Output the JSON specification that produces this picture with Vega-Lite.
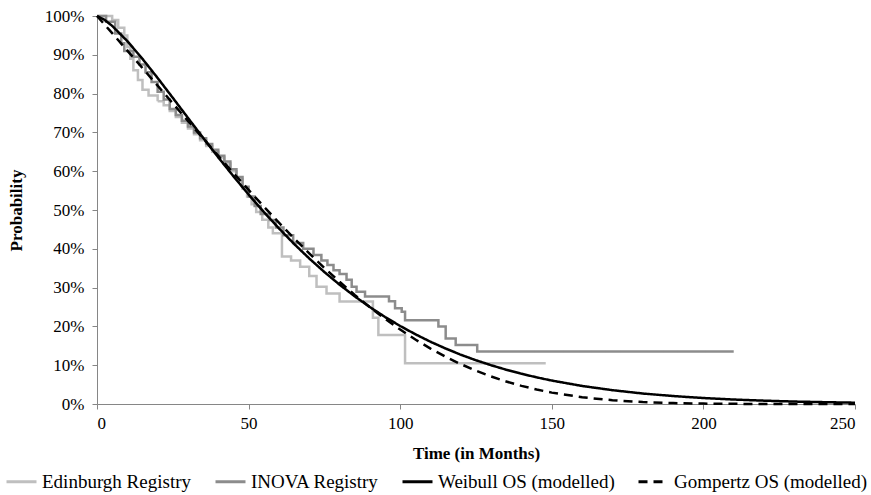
{
  "$schema": "https://vega.github.io/schema/vega-lite/v6.json",
  "autosize": "none",
  "width": 758,
  "height": 388,
  "padding": {"left": 97, "top": 16, "right": 16, "bottom": 91},
  "background": "white",
  "config": {
    "view": {"stroke": null},
    "font": "Liberation Serif",
    "axis": {"grid": false, "domainColor": "#868686", "tickColor": "#868686", "labelColor": "#000000", "titleColor": "#000000", "labelFont": "Liberation Serif", "titleFont": "Liberation Serif", "labelFontSize": 17, "titleFontSize": 17, "titleFontWeight": "bold", "tickSize": 5, "domainWidth": 1},
    "legend": {"labelFont": "Liberation Serif", "labelFontSize": 19, "labelColor": "#000000", "labelLimit": 0}
  },
  "datasets": {
    "km": [
      {"t": 0, "s": 1.0, "series": "Edinburgh Registry"},
      {"t": 5, "s": 0.99, "series": "Edinburgh Registry"},
      {"t": 7, "s": 0.97, "series": "Edinburgh Registry"},
      {"t": 9, "s": 0.95, "series": "Edinburgh Registry"},
      {"t": 10, "s": 0.92, "series": "Edinburgh Registry"},
      {"t": 11, "s": 0.89, "series": "Edinburgh Registry"},
      {"t": 12, "s": 0.86, "series": "Edinburgh Registry"},
      {"t": 13.5, "s": 0.835, "series": "Edinburgh Registry"},
      {"t": 15, "s": 0.81, "series": "Edinburgh Registry"},
      {"t": 17, "s": 0.795, "series": "Edinburgh Registry"},
      {"t": 20, "s": 0.78, "series": "Edinburgh Registry"},
      {"t": 22, "s": 0.77, "series": "Edinburgh Registry"},
      {"t": 24, "s": 0.755, "series": "Edinburgh Registry"},
      {"t": 26, "s": 0.74, "series": "Edinburgh Registry"},
      {"t": 28, "s": 0.725, "series": "Edinburgh Registry"},
      {"t": 30, "s": 0.71, "series": "Edinburgh Registry"},
      {"t": 32, "s": 0.695, "series": "Edinburgh Registry"},
      {"t": 34, "s": 0.68, "series": "Edinburgh Registry"},
      {"t": 36, "s": 0.665, "series": "Edinburgh Registry"},
      {"t": 38, "s": 0.65, "series": "Edinburgh Registry"},
      {"t": 40, "s": 0.635, "series": "Edinburgh Registry"},
      {"t": 42, "s": 0.62, "series": "Edinburgh Registry"},
      {"t": 44, "s": 0.6, "series": "Edinburgh Registry"},
      {"t": 46, "s": 0.58, "series": "Edinburgh Registry"},
      {"t": 48, "s": 0.555, "series": "Edinburgh Registry"},
      {"t": 49.5, "s": 0.535, "series": "Edinburgh Registry"},
      {"t": 51, "s": 0.515, "series": "Edinburgh Registry"},
      {"t": 52.5, "s": 0.495, "series": "Edinburgh Registry"},
      {"t": 54.5, "s": 0.475, "series": "Edinburgh Registry"},
      {"t": 56.5, "s": 0.455, "series": "Edinburgh Registry"},
      {"t": 58, "s": 0.44, "series": "Edinburgh Registry"},
      {"t": 61, "s": 0.38, "series": "Edinburgh Registry"},
      {"t": 64, "s": 0.37, "series": "Edinburgh Registry"},
      {"t": 67, "s": 0.354, "series": "Edinburgh Registry"},
      {"t": 70, "s": 0.33, "series": "Edinburgh Registry"},
      {"t": 72.4, "s": 0.302, "series": "Edinburgh Registry"},
      {"t": 75.7, "s": 0.285, "series": "Edinburgh Registry"},
      {"t": 80, "s": 0.264, "series": "Edinburgh Registry"},
      {"t": 91, "s": 0.222, "series": "Edinburgh Registry"},
      {"t": 92.8, "s": 0.178, "series": "Edinburgh Registry"},
      {"t": 101.6, "s": 0.105, "series": "Edinburgh Registry"},
      {"t": 148, "s": 0.105, "series": "Edinburgh Registry"},
      {"t": 0, "s": 1.0, "series": "INOVA Registry"},
      {"t": 3, "s": 0.985, "series": "INOVA Registry"},
      {"t": 6, "s": 0.955, "series": "INOVA Registry"},
      {"t": 8, "s": 0.93, "series": "INOVA Registry"},
      {"t": 9, "s": 0.91, "series": "INOVA Registry"},
      {"t": 12, "s": 0.895, "series": "INOVA Registry"},
      {"t": 14, "s": 0.875, "series": "INOVA Registry"},
      {"t": 16, "s": 0.855, "series": "INOVA Registry"},
      {"t": 18, "s": 0.83, "series": "INOVA Registry"},
      {"t": 20, "s": 0.805, "series": "INOVA Registry"},
      {"t": 22, "s": 0.785, "series": "INOVA Registry"},
      {"t": 24, "s": 0.76, "series": "INOVA Registry"},
      {"t": 26, "s": 0.745, "series": "INOVA Registry"},
      {"t": 28, "s": 0.73, "series": "INOVA Registry"},
      {"t": 30, "s": 0.715, "series": "INOVA Registry"},
      {"t": 32, "s": 0.7, "series": "INOVA Registry"},
      {"t": 34, "s": 0.685, "series": "INOVA Registry"},
      {"t": 36, "s": 0.67, "series": "INOVA Registry"},
      {"t": 38, "s": 0.655, "series": "INOVA Registry"},
      {"t": 40, "s": 0.64, "series": "INOVA Registry"},
      {"t": 42, "s": 0.625, "series": "INOVA Registry"},
      {"t": 44, "s": 0.605, "series": "INOVA Registry"},
      {"t": 46, "s": 0.585, "series": "INOVA Registry"},
      {"t": 48, "s": 0.56, "series": "INOVA Registry"},
      {"t": 50, "s": 0.535, "series": "INOVA Registry"},
      {"t": 52, "s": 0.51, "series": "INOVA Registry"},
      {"t": 54, "s": 0.49, "series": "INOVA Registry"},
      {"t": 57, "s": 0.474, "series": "INOVA Registry"},
      {"t": 59, "s": 0.455, "series": "INOVA Registry"},
      {"t": 61.5, "s": 0.435, "series": "INOVA Registry"},
      {"t": 64.7, "s": 0.415, "series": "INOVA Registry"},
      {"t": 68, "s": 0.4, "series": "INOVA Registry"},
      {"t": 71.4, "s": 0.384, "series": "INOVA Registry"},
      {"t": 74, "s": 0.37, "series": "INOVA Registry"},
      {"t": 76, "s": 0.358, "series": "INOVA Registry"},
      {"t": 78, "s": 0.345, "series": "INOVA Registry"},
      {"t": 80, "s": 0.335, "series": "INOVA Registry"},
      {"t": 82.3, "s": 0.32, "series": "INOVA Registry"},
      {"t": 84, "s": 0.302, "series": "INOVA Registry"},
      {"t": 85.6, "s": 0.289, "series": "INOVA Registry"},
      {"t": 88.4, "s": 0.277, "series": "INOVA Registry"},
      {"t": 96.3, "s": 0.265, "series": "INOVA Registry"},
      {"t": 98.3, "s": 0.247, "series": "INOVA Registry"},
      {"t": 100.5, "s": 0.238, "series": "INOVA Registry"},
      {"t": 101.6, "s": 0.216, "series": "INOVA Registry"},
      {"t": 112.6, "s": 0.2, "series": "INOVA Registry"},
      {"t": 115, "s": 0.169, "series": "INOVA Registry"},
      {"t": 118.3, "s": 0.152, "series": "INOVA Registry"},
      {"t": 125.4, "s": 0.135, "series": "INOVA Registry"},
      {"t": 210, "s": 0.135, "series": "INOVA Registry"}
    ],
    "model": [
      {"t": 0, "s": 1.0, "series": "Weibull OS (modelled)"},
      {"t": 2.5, "s": 0.990, "series": "Weibull OS (modelled)"},
      {"t": 5, "s": 0.9746, "series": "Weibull OS (modelled)"},
      {"t": 10, "s": 0.9353, "series": "Weibull OS (modelled)"},
      {"t": 15, "s": 0.8896, "series": "Weibull OS (modelled)"},
      {"t": 20, "s": 0.8402, "series": "Weibull OS (modelled)"},
      {"t": 25, "s": 0.7891, "series": "Weibull OS (modelled)"},
      {"t": 30, "s": 0.7374, "series": "Weibull OS (modelled)"},
      {"t": 35, "s": 0.6861, "series": "Weibull OS (modelled)"},
      {"t": 40, "s": 0.6357, "series": "Weibull OS (modelled)"},
      {"t": 45, "s": 0.5869, "series": "Weibull OS (modelled)"},
      {"t": 50, "s": 0.5399, "series": "Weibull OS (modelled)"},
      {"t": 55, "s": 0.4951, "series": "Weibull OS (modelled)"},
      {"t": 60, "s": 0.4527, "series": "Weibull OS (modelled)"},
      {"t": 65, "s": 0.4126, "series": "Weibull OS (modelled)"},
      {"t": 70, "s": 0.3751, "series": "Weibull OS (modelled)"},
      {"t": 75, "s": 0.3401, "series": "Weibull OS (modelled)"},
      {"t": 80, "s": 0.3076, "series": "Weibull OS (modelled)"},
      {"t": 85, "s": 0.2775, "series": "Weibull OS (modelled)"},
      {"t": 90, "s": 0.2498, "series": "Weibull OS (modelled)"},
      {"t": 95, "s": 0.2243, "series": "Weibull OS (modelled)"},
      {"t": 100, "s": 0.2010, "series": "Weibull OS (modelled)"},
      {"t": 105, "s": 0.1798, "series": "Weibull OS (modelled)"},
      {"t": 110, "s": 0.1604, "series": "Weibull OS (modelled)"},
      {"t": 115, "s": 0.1429, "series": "Weibull OS (modelled)"},
      {"t": 120, "s": 0.1270, "series": "Weibull OS (modelled)"},
      {"t": 125, "s": 0.1127, "series": "Weibull OS (modelled)"},
      {"t": 130, "s": 0.0999, "series": "Weibull OS (modelled)"},
      {"t": 135, "s": 0.0883, "series": "Weibull OS (modelled)"},
      {"t": 140, "s": 0.0779, "series": "Weibull OS (modelled)"},
      {"t": 145, "s": 0.0687, "series": "Weibull OS (modelled)"},
      {"t": 150, "s": 0.0604, "series": "Weibull OS (modelled)"},
      {"t": 160, "s": 0.0465, "series": "Weibull OS (modelled)"},
      {"t": 170, "s": 0.0356, "series": "Weibull OS (modelled)"},
      {"t": 180, "s": 0.0270, "series": "Weibull OS (modelled)"},
      {"t": 190, "s": 0.0205, "series": "Weibull OS (modelled)"},
      {"t": 200, "s": 0.0154, "series": "Weibull OS (modelled)"},
      {"t": 210, "s": 0.0115, "series": "Weibull OS (modelled)"},
      {"t": 220, "s": 0.0086, "series": "Weibull OS (modelled)"},
      {"t": 230, "s": 0.0063, "series": "Weibull OS (modelled)"},
      {"t": 240, "s": 0.0047, "series": "Weibull OS (modelled)"},
      {"t": 250, "s": 0.0034, "series": "Weibull OS (modelled)"},
      {"t": 0, "s": 1.0, "series": "Gompertz OS (modelled)"},
      {"t": 5, "s": 0.9557, "series": "Gompertz OS (modelled)"},
      {"t": 10, "s": 0.9109, "series": "Gompertz OS (modelled)"},
      {"t": 15, "s": 0.8658, "series": "Gompertz OS (modelled)"},
      {"t": 20, "s": 0.8205, "series": "Gompertz OS (modelled)"},
      {"t": 25, "s": 0.7750, "series": "Gompertz OS (modelled)"},
      {"t": 30, "s": 0.7296, "series": "Gompertz OS (modelled)"},
      {"t": 35, "s": 0.6844, "series": "Gompertz OS (modelled)"},
      {"t": 40, "s": 0.6396, "series": "Gompertz OS (modelled)"},
      {"t": 45, "s": 0.5953, "series": "Gompertz OS (modelled)"},
      {"t": 50, "s": 0.5517, "series": "Gompertz OS (modelled)"},
      {"t": 55, "s": 0.5091, "series": "Gompertz OS (modelled)"},
      {"t": 60, "s": 0.4675, "series": "Gompertz OS (modelled)"},
      {"t": 65, "s": 0.4271, "series": "Gompertz OS (modelled)"},
      {"t": 70, "s": 0.3881, "series": "Gompertz OS (modelled)"},
      {"t": 75, "s": 0.3507, "series": "Gompertz OS (modelled)"},
      {"t": 80, "s": 0.3151, "series": "Gompertz OS (modelled)"},
      {"t": 85, "s": 0.2812, "series": "Gompertz OS (modelled)"},
      {"t": 90, "s": 0.2494, "series": "Gompertz OS (modelled)"},
      {"t": 95, "s": 0.2195, "series": "Gompertz OS (modelled)"},
      {"t": 100, "s": 0.1918, "series": "Gompertz OS (modelled)"},
      {"t": 105, "s": 0.1662, "series": "Gompertz OS (modelled)"},
      {"t": 110, "s": 0.1429, "series": "Gompertz OS (modelled)"},
      {"t": 115, "s": 0.1217, "series": "Gompertz OS (modelled)"},
      {"t": 120, "s": 0.1027, "series": "Gompertz OS (modelled)"},
      {"t": 125, "s": 0.0857, "series": "Gompertz OS (modelled)"},
      {"t": 130, "s": 0.0709, "series": "Gompertz OS (modelled)"},
      {"t": 135, "s": 0.0579, "series": "Gompertz OS (modelled)"},
      {"t": 140, "s": 0.0467, "series": "Gompertz OS (modelled)"},
      {"t": 145, "s": 0.0373, "series": "Gompertz OS (modelled)"},
      {"t": 150, "s": 0.0293, "series": "Gompertz OS (modelled)"},
      {"t": 160, "s": 0.0174, "series": "Gompertz OS (modelled)"},
      {"t": 170, "s": 0.0097, "series": "Gompertz OS (modelled)"},
      {"t": 180, "s": 0.0050, "series": "Gompertz OS (modelled)"},
      {"t": 190, "s": 0.0024, "series": "Gompertz OS (modelled)"},
      {"t": 200, "s": 0.0010, "series": "Gompertz OS (modelled)"},
      {"t": 210, "s": 0.0004, "series": "Gompertz OS (modelled)"},
      {"t": 220, "s": 0.0001, "series": "Gompertz OS (modelled)"},
      {"t": 250, "s": 0.0, "series": "Gompertz OS (modelled)"}
    ]
  },
  "encoding": {
    "x": {"field": "t", "type": "quantitative", "title": "Time (in Months)", "scale": {"domain": [0, 250], "nice": false}, "axis": {"values": [0, 50, 100, 150, 200, 250], "labelPadding": 6, "titlePadding": 14}},
    "y": {"field": "s", "type": "quantitative", "title": "Probability", "scale": {"domain": [0, 1], "nice": false}, "axis": {"format": ".0%", "values": [0, 0.1, 0.2, 0.3, 0.4, 0.5, 0.6, 0.7, 0.8, 0.9, 1.0], "labelPadding": 8, "titlePadding": 19}},
    "color": {"field": "series", "type": "nominal", "title": null, "scale": {"domain": ["Edinburgh Registry", "INOVA Registry", "Weibull OS (modelled)", "Gompertz OS (modelled)"], "range": ["#bfbfbf", "#8c8c8c", "#000000", "#000000"]}, "legend": {"orient": "none", "legendX": -92, "legendY": 449, "direction": "horizontal", "symbolType": "stroke", "symbolSize": 900, "symbolStrokeWidth": 3, "labelOffset": 4, "columnPadding": 17}},
    "strokeDash": {"field": "series", "type": "nominal", "title": null, "scale": {"domain": ["Edinburgh Registry", "INOVA Registry", "Weibull OS (modelled)", "Gompertz OS (modelled)"], "range": [[1, 0], [1, 0], [1, 0], [9, 6]]}}
  },
  "layer": [
    {"data": {"name": "km"}, "mark": {"type": "line", "interpolate": "step-after", "strokeWidth": 2.5}},
    {"data": {"name": "model"}, "mark": {"type": "line", "interpolate": "linear", "strokeWidth": 2.5}}
  ]
}
